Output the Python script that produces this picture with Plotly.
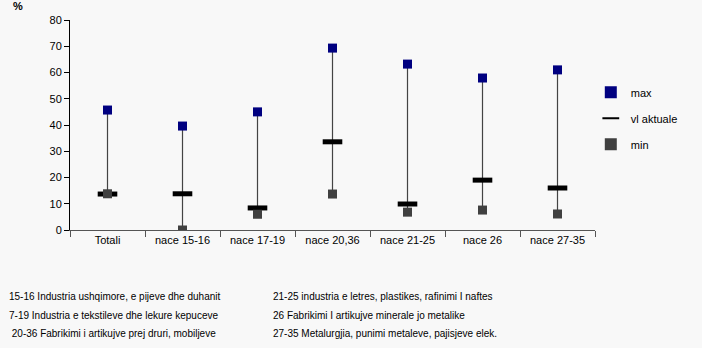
import plotly.graph_objects as go

categories = ["Totali", "nace 15-16", "nace 17-19", "nace 20,36", "nace 21-25", "nace 26", "nace 27-35"]
max_vals = [45.7, 39.6, 45.0, 69.3, 63.2, 57.9, 61.0]
actual_vals = [13.7, 13.8, 8.4, 33.6, 9.9, 19.0, 16.0]
min_vals = [13.8, 0.0, 6.0, 13.7, 6.8, 7.6, 6.1]

notes_left = [
    "15-16 Industria ushqimore, e pijeve dhe duhanit",
    "7-19 Industria e tekstileve dhe lekure kepuceve",
    " 20-36 Fabrikimi i artikujve prej druri, mobiljeve",
]
notes_right = [
    "21-25 industria e letres, plastikes, rafinimi I naftes",
    "26 Fabrikimi I artikujve minerale jo metalike",
    "27-35 Metalurgjia, punimi metaleve, pajisjeve elek.",
]

FONT = "Liberation Sans, Arial, sans-serif"

# high-low lines from min to max for each category
line_x, line_y = [], []
for c, lo, hi in zip(categories, min_vals, max_vals):
    line_x += [c, c, None]
    line_y += [lo, hi, None]

fig = go.Figure()
fig.add_trace(go.Scatter(x=line_x, y=line_y, mode="lines",
                         line=dict(color="#444444", width=1.2),
                         showlegend=False, hoverinfo="skip"))
fig.add_trace(go.Scatter(x=categories, y=max_vals, mode="markers", name="max",
                         legendgroup="a",
                         marker=dict(symbol="square", size=9, color="#000080")))
fig.add_trace(go.Scatter(x=categories, y=actual_vals, mode="markers", name="vl aktuale",
                         legendgroup="b",
                         marker=dict(symbol="line-ew", size=14,
                                     line=dict(color="#000000", width=5))))
fig.add_trace(go.Scatter(x=categories, y=min_vals, mode="markers", name="min",
                         legendgroup="c",
                         marker=dict(symbol="square", size=9, color="#404040")))

annotations = [dict(text="<b>%</b>", x=-0.112, y=1.03, xref="paper", yref="paper",
                    xanchor="left", yanchor="bottom", showarrow=False,
                    font=dict(size=11, color="#000000", family=FONT))]
row_y = [-0.315, -0.405, -0.495]
for i, (a, b) in enumerate(zip(notes_left, notes_right)):
    annotations.append(dict(text=a, x=-0.12, y=row_y[i], xref="paper", yref="paper",
                            xanchor="left", yanchor="middle", showarrow=False,
                            font=dict(size=10, color="#000000", family=FONT)))
    annotations.append(dict(text=b, x=0.383, y=row_y[i], xref="paper", yref="paper",
                            xanchor="left", yanchor="middle", showarrow=False,
                            font=dict(size=10, color="#000000", family=FONT)))

fig.update_layout(
    width=702, height=348,
    margin=dict(l=70, r=107, t=20, b=118),
    paper_bgcolor="#f8f8f8", plot_bgcolor="#f8f8f8",
    font=dict(family=FONT, size=11, color="#000000"),
    showlegend=True,
    legend=dict(x=0.992, y=0.725, xanchor="left", yanchor="top",
                bgcolor="rgba(0,0,0,0)", font=dict(size=11),
                tracegroupgap=7, itemwidth=30, itemsizing="constant"),
    annotations=annotations,
)
fig.update_xaxes(type="category", range=[-0.5, 6.5], tickson="boundaries",
                 ticks="outside", ticklen=6, tickcolor="#555555",
                 showline=True, linecolor="#555555", linewidth=1,
                 showgrid=False, zeroline=False, tickfont=dict(size=11))
fig.update_yaxes(range=[0, 80], dtick=10, ticks="outside", ticklen=5,
                 tickcolor="#000000", showline=True, linecolor="#000000",
                 linewidth=1, showgrid=False, zeroline=False, tickfont=dict(size=11))

fig.write_html("out.html", config=dict(displayModeBar=False),
               post_script="document.body.style.margin='0';")
